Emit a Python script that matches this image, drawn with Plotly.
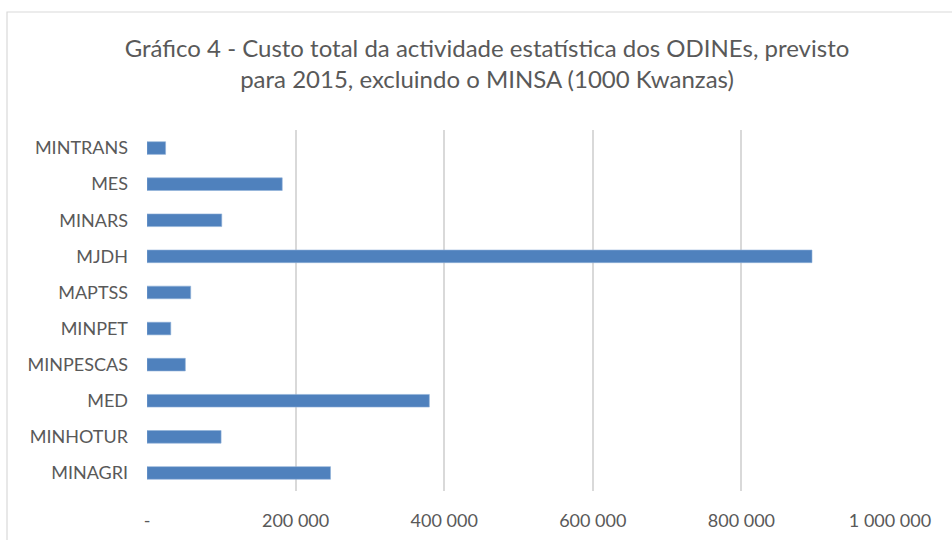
import plotly.graph_objects as go

categories = ["MINAGRI", "MINHOTUR", "MED", "MINPESCAS", "MINPET",
              "MAPTSS", "MJDH", "MINARS", "MES", "MINTRANS"]
values = [247000, 99700, 380000, 51600, 32000,
          58800, 895000, 100600, 182000, 25000]
tick_vals = [0, 200000, 400000, 600000, 800000, 1000000]
tick_text = ["-", "200 000", "400 000", "600 000", "800 000", "1 000 000"]
title_text = ("Gráfico 4 - Custo total da actividade estatística dos ODINEs, previsto"
              "<br>para 2015, excluindo o MINSA (1000 Kwanzas)")

FONT = "Lato"
GREY = "#595959"

fig = go.Figure(go.Bar(
    y=categories, x=values, orientation="h",
    marker=dict(color="#4f81bd", line=dict(color="#8fb0d8", width=0.6)),
    width=0.35,
))

W, H = 952, 540
ml, mr, mt, mb = 147, 62, 130, 49
pw, ph = W - ml - mr, H - mt - mb

fig.update_layout(
    width=W, height=H,
    margin=dict(l=ml, r=mr, t=mt, b=mb, autoexpand=False),
    paper_bgcolor="white", plot_bgcolor="white",
    title=dict(text=title_text, x=487 / W, xanchor="center",
               y=1 - 57 / H, yanchor="middle",
               font=dict(family=FONT, size=24, color=GREY)),
    font=dict(family=FONT, color=GREY),
    showlegend=False,
    xaxis=dict(range=[0, 1000000], tickvals=tick_vals, ticktext=tick_text,
               showgrid=True, gridcolor="#d9d9d9", gridwidth=1.5,
               zeroline=False, showline=False, ticks="",
               tickfont=dict(family=FONT, size=18, color=GREY),
               ticklabelstandoff=17),
    yaxis=dict(categoryorder="array", categoryarray=categories,
               showgrid=False, zeroline=False, showline=False, ticks="",
               tickfont=dict(family=FONT, size=18, color=GREY),
               ticklabelstandoff=18),
    shapes=[dict(type="rect", xref="paper", yref="paper",
                 x0=(7 - ml) / pw, x1=(960 - ml) / pw,
                 y0=(H - mb - 560) / ph, y1=(H - mb - 12) / ph,
                 line=dict(color="#d9d9d9", width=1.2), layer="below")],
)

fig.write_html("out.html", config={"displayModeBar": False},
               post_script="document.body.style.margin='0';document.body.style.padding='0';")
